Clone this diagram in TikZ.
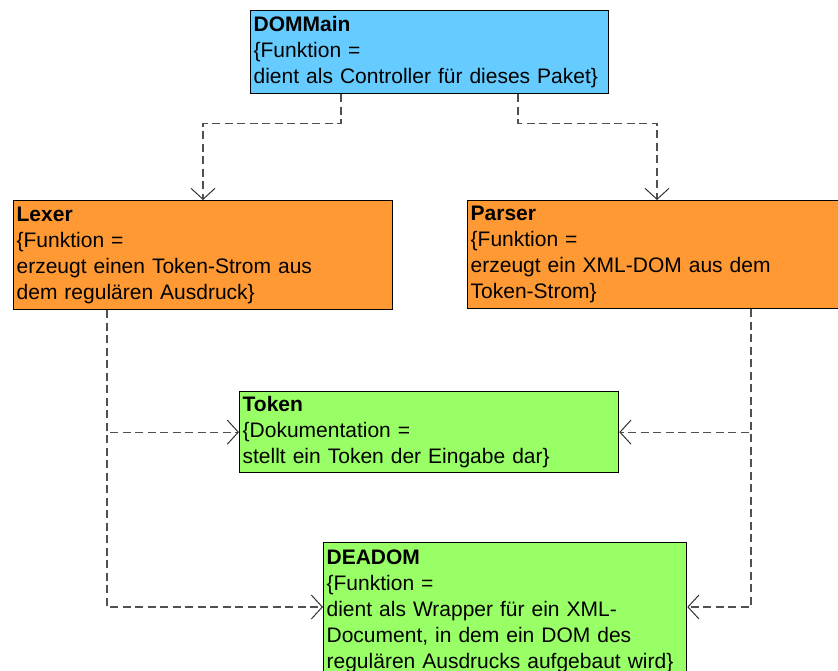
\documentclass[tikz,border=0pt]{standalone}
\usepackage{fontspec}
\setmainfont{Liberation Sans}
\usetikzlibrary{arrows.meta,calc}
\definecolor{cblue}{HTML}{66CCFF}
\definecolor{corange}{HTML}{FF9933}
\definecolor{cgreen}{HTML}{99FF66}
\definecolor{cline}{HTML}{505050}
\begin{document}
\begin{tikzpicture}[x=1pt,y=-1pt,
  classbox/.style={draw=black, line width=1.3pt, anchor=north west, align=left,
    inner xsep=3pt, inner ysep=0pt,
    font=\fontsize{21}{26}\selectfont},
  conn/.style={draw=cline, line width=1.3pt, dash pattern=on 8pt off 4.5pt,
    -{Straight Barb[length=11pt,width=24pt,line width=1pt,color=black!80]}}]
\clip (0,0) rectangle (838,671);
\fill[white] (0,0) rectangle (838,671);

\node[classbox, fill=cblue, text width=352pt, minimum height=83pt] (dommain) at (250,10)
  {\textbf{DOMMain}\\\{Funktion =\\dient als Controller für dieses Paket\}};
\node[classbox, fill=corange, text width=373pt, minimum height=109pt] (lexer) at (13,200)
  {\textbf{Lexer}\\\{Funktion =\\erzeugt einen Token-Strom aus\\dem regulären Ausdruck\}};
\node[classbox, fill=corange, text width=380pt, minimum height=108pt] (parser) at (467,200)
  {\textbf{Parser}\\\{Funktion =\\erzeugt ein XML-DOM aus dem\\Token-Strom\}};
\node[classbox, fill=cgreen, text width=373pt, minimum height=81pt] (token) at (239,391)
  {\textbf{Token}\\\{Dokumentation =\\stellt ein Token der Eingabe dar\}};
\node[classbox, fill=cgreen, text width=357pt, minimum height=137pt] (deadom) at (323,542)
  {\textbf{DEADOM}\\\{Funktion =\\dient als Wrapper für ein XML-\\Document, in dem ein DOM des\\regulären Ausdrucks aufgebaut wird\}};

\draw[conn] ($(dommain.south west)+(91,0)$) -- ++(0,29) -| ($(lexer.north west)+(190,0)$);
\draw[conn] ($(dommain.south west)+(268,0)$) -- ++(0,29) -| ($(parser.north west)+(190,0)$);
\draw[conn] ($(lexer.south west)+(94,0)$) |- (token.west);
\draw[conn] ($(lexer.south west)+(94,0)$) |- ($(deadom.north west)+(0,65)$);
\draw[conn] ($(parser.south west)+(284,0)$) |- (token.east);
\draw[conn] ($(parser.south west)+(284,0)$) |- ($(deadom.north east)+(0,65)$);
\end{tikzpicture}
\end{document}
